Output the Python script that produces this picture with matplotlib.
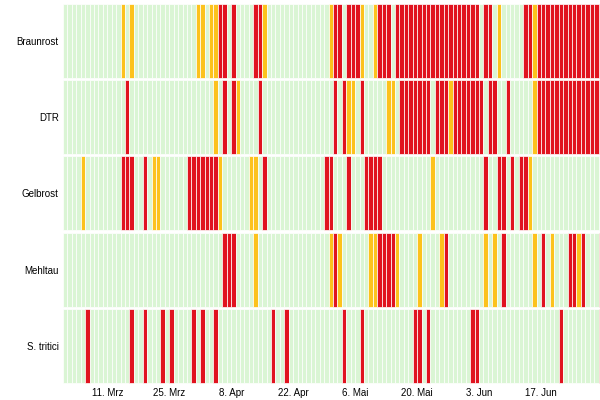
import matplotlib
matplotlib.use("Agg")
import matplotlib.pyplot as plt
import numpy as np

rows = ["Braunrost", "DTR", "Gelbrost", "Mehltau", "S. tritici"]
n_days = 122
tick_days = [10, 24, 38, 52, 66, 80, 94, 108]
tick_labels = ["11. Mrz", "25. Mrz", "8. Apr", "22. Apr", "6. Mai", "20. Mai", "3. Jun", "17. Jun"]

# day indices (0 = 1. Mrz) with medium (yellow) and high (red) risk
braunrost_yellow = [13, 15, 30, 31, 33, 34, 45, 60, 67, 70, 98, 106]
braunrost_red = [35, 36, 38, 43, 44, 61, 62, 64, 65, 66, 71, 72, 73] + list(range(75, 94)) + [95, 96, 104, 105] + list(range(107, 122))
dtr_yellow = [34, 39, 64, 65, 73, 74, 87, 106]
dtr_red = [14, 36, 38, 44, 61, 63, 67] + list(range(76, 83)) + [84, 85, 86] + list(range(88, 95)) + [96, 97, 100] + list(range(107, 122))
gelbrost_yellow = [4, 20, 21, 35, 42, 43, 83, 105]
gelbrost_red = [13, 14, 15, 18] + list(range(28, 35)) + [45, 59, 60, 64, 68, 69, 70, 71, 95, 98, 99, 101, 103, 104]
mehltau_yellow = [43, 60, 62, 69, 70, 75, 80, 85, 95, 97, 106, 110, 116]
mehltau_red = [36, 37, 38, 61, 71, 72, 73, 74, 86, 99, 108, 114, 115, 117, 121]
stritici_yellow = []
stritici_red = [5, 15, 18, 22, 24, 29, 31, 34, 47, 50, 63, 67, 79, 80, 82, 92, 93, 112, 121]

levels_yellow = [braunrost_yellow, dtr_yellow, gelbrost_yellow, mehltau_yellow, stritici_yellow]
levels_red = [braunrost_red, dtr_red, gelbrost_red, mehltau_red, stritici_red]

colors = ["#daf5d4", "#fcc21d", "#e0131f"]

fig = plt.figure(figsize=(6, 4), dpi=100)
ax = fig.add_axes([0.105, 0.04, 0.9, 0.953])

for i, name in enumerate(rows):
    lev = np.zeros(n_days, dtype=int)
    lev[levels_yellow[i]] = 1
    lev[levels_red[i]] = 2
    y = len(rows) - 1 - i
    cols = [colors[v] for v in lev]
    ax.bar(np.arange(n_days), 0.97, bottom=y + 0.015, width=1.0, align="edge",
           color=cols, edgecolor="white", linewidth=0.5)

ax.set_xlim(0, n_days)
ax.set_ylim(0, len(rows))
ax.set_yticks(np.arange(len(rows)) + 0.5)
ax.set_yticklabels(rows[::-1], fontsize=7, family="Liberation Sans")
ax.set_xticks(tick_days)
ax.set_xticklabels(tick_labels, fontsize=7, family="Liberation Sans")
ax.tick_params(length=0, pad=3)
for s in ax.spines.values():
    s.set_visible(False)

fig.savefig("out.png", dpi=100)
